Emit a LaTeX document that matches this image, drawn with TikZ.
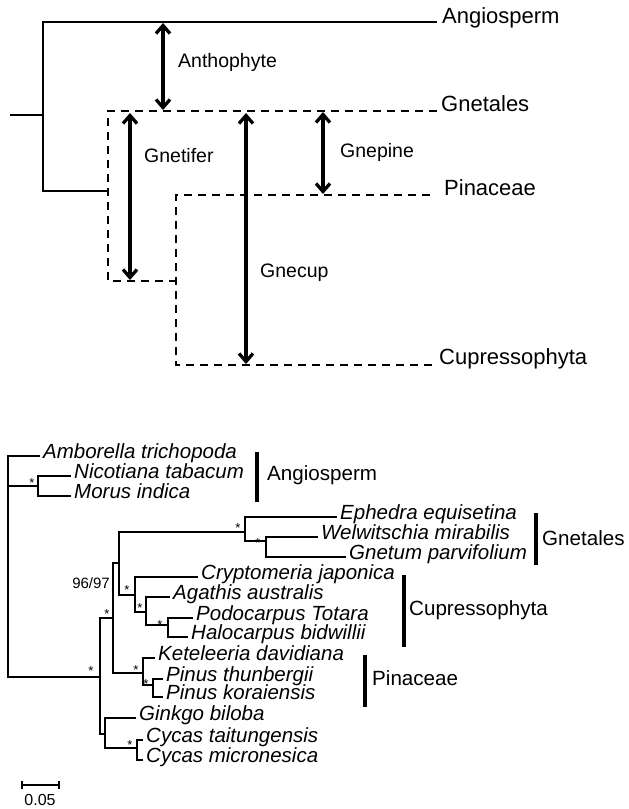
\documentclass[tikz,border=0pt]{standalone}
\usepackage{fontspec}
\setmainfont{Liberation Sans}
\usetikzlibrary{arrows.meta}
\begin{document}
\begin{tikzpicture}[x=1pt,y=-1pt,
 tree/.style={line width=2.4pt},
 dtree/.style={line width=2.4pt, dash pattern=on 8pt off 6pt},
 btree/.style={line width=2pt},
 darrow/.style={line width=3.3pt, {Straight Barb[length=8pt,width=14pt]}-{Straight Barb[length=8pt,width=14pt]}},
 toplabel/.style={anchor=west, inner sep=0pt, text height=0.72em, text depth=0.2em, font=\fontsize{22}{24}\selectfont},
 arrlabel/.style={anchor=west, inner sep=0pt, text height=0.72em, text depth=0.2em, font=\fontsize{19.5}{21}\selectfont},
 leaf/.style={anchor=west, inner sep=0pt, text height=0.66em, text depth=0.16em, font=\fontsize{20.5}{22}\selectfont\itshape},
 clade/.style={anchor=west, inner sep=0pt, text height=0.72em, text depth=0.2em, font=\fontsize{20.6}{22}\selectfont},
 bar/.style={line width=4pt},
 star/.style={anchor=base, yshift=-7.5pt, inner sep=0pt, font=\fontsize{13}{13}\selectfont},
]
\useasboundingbox (0,0) rectangle (629,809);

% ================= TOP TREE =================
\coordinate (r0) at (10,115);
\coordinate (rn) at (43,115);
\coordinate (ra) at (43,22);
\coordinate (rb) at (43,191);
\coordinate (angE) at (437,22);
\coordinate (gA) at (108,191);
\draw[tree] (r0) -- (rn);
\draw[tree] (angE) -- (ra) -- (rb) -- (gA);

\coordinate (gtop) at (108,111);
\coordinate (gtE) at (437,111);
\coordinate (gbot) at (108,281);
\coordinate (cpn) at (176,281);
\coordinate (cptop) at (176,195);
\coordinate (pinE) at (430,195);
\coordinate (cpbot) at (176,365);
\coordinate (cupE) at (437,365);
\draw[dtree] (gtE) -- (gtop) -- (gbot) -- (cpn);
\draw[dtree] (pinE) -- (cptop) -- (cpbot) -- (cupE);

\node[toplabel] (tAngio) at (442,21) {Angiosperm};
\node[toplabel] (tGnet) at (441,109) {Gnetales};
\node[toplabel] (tPin) at (444,193) {Pinaceae};
\node[toplabel] (tCup) at (439,362) {Cupressophyta};

\coordinate (anT) at (163,23);
\coordinate (anB) at (163,110);
\coordinate (gfT) at (130,113);
\coordinate (gfB) at (130,280);
\coordinate (gcT) at (246,113);
\coordinate (gcB) at (246,364);
\coordinate (gpT) at (323,112);
\coordinate (gpB) at (323,194);
\draw[darrow] (anT) -- (anB);
\draw[darrow] (gfT) -- (gfB);
\draw[darrow] (gcT) -- (gcB);
\draw[darrow] (gpT) -- (gpB);

\node[arrlabel] (lAnth) at (178,65) {Anthophyte};
\node[arrlabel] (lGnetif) at (144,160) {Gnetifer};
\node[arrlabel] (lGnecup) at (260,275) {Gnecup};
\node[arrlabel] (lGnepine) at (340,155) {Gnepine};

% ================= BOTTOM TREE =================
\coordinate (R) at (8,566);
\coordinate (AN) at (38,486);
\coordinate (S) at (100,677);
\coordinate (U) at (113,618);
\coordinate (B) at (119,563);
\coordinate (C) at (245,532);
\coordinate (D) at (266,541);
\coordinate (E) at (135,595);
\coordinate (F) at (146,612);
\coordinate (G) at (168,625);
\coordinate (H) at (143,673);
\coordinate (I) at (153,685);
\coordinate (J) at (105,734);
\coordinate (K) at (137,748);

\coordinate (ambE) at (40,456);
\coordinate (nicE) at (71,476);
\coordinate (morE) at (71,496);
\coordinate (ephE) at (337,517);
\coordinate (welE) at (318,537);
\coordinate (gnE) at (346,557);
\coordinate (cryE) at (198,577);
\coordinate (agaE) at (170,597);
\coordinate (podE) at (193,618);
\coordinate (halE) at (188,637);
\coordinate (ketE) at (155,658);
\coordinate (thuE) at (163,679);
\coordinate (korE) at (163,697);
\coordinate (ginE) at (136,718);
\coordinate (taiE) at (143,740);
\coordinate (micE) at (143,760);

\draw[btree] (R) |- (ambE);
\draw[btree] (R) |- (AN);
\draw[btree] (R) |- (S);
\draw[btree] (AN) |- (nicE);
\draw[btree] (AN) |- (morE);
\draw[btree] (S) |- (U);
\draw[btree] (S) |- (J);
\draw[btree] (U) |- (B);
\draw[btree] (U) |- (H);
\draw[btree] (B) |- (C);
\draw[btree] (B) |- (E);
\draw[btree] (C) |- (ephE);
\draw[btree] (C) |- (D);
\draw[btree] (D) |- (welE);
\draw[btree] (D) |- (gnE);
\draw[btree] (E) |- (cryE);
\draw[btree] (E) |- (F);
\draw[btree] (F) |- (agaE);
\draw[btree] (F) |- (G);
\draw[btree] (G) |- (podE);
\draw[btree] (G) |- (halE);
\draw[btree] (H) |- (ketE);
\draw[btree] (H) |- (I);
\draw[btree] (I) |- (thuE);
\draw[btree] (I) |- (korE);
\draw[btree] (J) |- (ginE);
\draw[btree] (J) |- (K);
\draw[btree] (K) |- (taiE);
\draw[btree] (K) |- (micE);

\node[leaf] (lAmb) at ([xshift=3pt]ambE) {Amborella trichopoda};
\node[leaf] (lNic) at ([xshift=3pt]nicE) {Nicotiana tabacum};
\node[leaf] (lMor) at ([xshift=3pt]morE) {Morus indica};
\node[leaf] (lEph) at ([xshift=3pt]ephE) {Ephedra equisetina};
\node[leaf] (lWel) at ([xshift=3pt]welE) {Welwitschia mirabilis};
\node[leaf] (lGnt) at ([xshift=3pt]gnE) {Gnetum parvifolium};
\node[leaf] (lCry) at ([xshift=3pt]cryE) {Cryptomeria japonica};
\node[leaf] (lAga) at ([xshift=3pt]agaE) {Agathis australis};
\node[leaf] (lPod) at ([xshift=3pt]podE) {Podocarpus Totara};
\node[leaf] (lHal) at ([xshift=3pt]halE) {Halocarpus bidwillii};
\node[leaf] (lKet) at ([xshift=3pt]ketE) {Keteleeria davidiana};
\node[leaf] (lThu) at ([xshift=3pt]thuE) {Pinus thunbergii};
\node[leaf] (lKor) at ([xshift=3pt]korE) {Pinus koraiensis};
\node[leaf] (lGin) at ([xshift=3pt]ginE) {Ginkgo biloba};
\node[leaf] (lTai) at ([xshift=3pt]taiE) {Cycas taitungensis};
\node[leaf] (lMic) at ([xshift=3pt]micE) {Cycas micronesica};

% support values
\node[star] (s1) at (32,480) {*};
\node[star] (s2) at (91,668) {*};
\node[star] (s3) at (107,611) {*};
\node[star] (s4) at (238,525) {*};
\node[star] (s5) at (258,540) {*};
\node[star] (s6) at (127,587) {*};
\node[star] (s7) at (140,605) {*};
\node[star] (s8) at (160,622) {*};
\node[star] (s9) at (136,667) {*};
\node[star] (s10) at (146,681) {*};
\node[star] (s11) at (130,742) {*};
\node[anchor=east, inner sep=0pt, font=\fontsize{15}{16}\selectfont] (bs) at (110,583) {96/97};

% clade bars
\coordinate (bA1) at (257,452); \coordinate (bA2) at (257,502);
\coordinate (bG1) at (536,513); \coordinate (bG2) at (536,565);
\coordinate (bC1) at (404,575); \coordinate (bC2) at (404,647);
\coordinate (bP1) at (365,655); \coordinate (bP2) at (365,707);
\draw[bar] (bA1) -- (bA2);
\draw[bar] (bG1) -- (bG2);
\draw[bar] (bC1) -- (bC2);
\draw[bar] (bP1) -- (bP2);
\node[clade] (cAngio) at (267,478) {Angiosperm};
\node[clade] (cGnet) at (542,543) {Gnetales};
\node[clade] (cCup) at (409,613) {Cupressophyta};
\node[clade] (cPin) at (372,683) {Pinaceae};

% scale bar
\coordinate (sb1) at (22,785);
\coordinate (sb2) at (59,785);
\draw[line width=1.8pt] (sb1) -- (sb2);
\draw[line width=1.5pt] ([yshift=4pt]sb1) -- ([yshift=-4pt]sb1);
\draw[line width=1.5pt] ([yshift=4pt]sb2) -- ([yshift=-4pt]sb2);
\node[inner sep=0pt, font=\fontsize{16}{17}\selectfont] (sbl) at (40,800) {0.05};
\end{tikzpicture}
\end{document}
